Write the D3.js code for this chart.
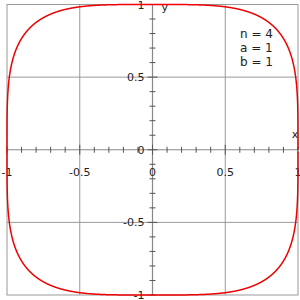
<!DOCTYPE html>
<html>
<head>
<meta charset="utf-8">
<script src="https://cdn.jsdelivr.net/npm/d3@7"></script>
<style>
  body { margin: 0; background: #fff; }
  text { font-family: "DejaVu Sans", sans-serif; font-size: 11px; fill: #222; }
</style>
</head>
<body>
<div id="chart"></div>
<script>
// superellipse |x/a|^n + |y/b|^n = 1
const params = [["n", 4], ["a", 1], ["b", 1]];
const n = 4, a = 1, b = 1;
const gridValues = [-0.5, 0.5];
const xLabels = [-1, -0.5, 0, 0.5, 1];
const yLabels = [-1, -0.5, 0.5, 1];
const minorTicks = d3.range(-10, 11).map(d => d / 10);

const W = 300, H = 300;
const x = d3.scaleLinear().domain([-1, 1]).range([7, 298]);
const y = d3.scaleLinear().domain([-1, 1]).range([295, 4.5]);

const svg = d3.select("#chart").append("svg")
    .attr("width", W)
    .attr("height", H);

// grid
svg.selectAll(".gx").data(gridValues).enter().append("line")
    .attr("x1", d => x(d)).attr("x2", d => x(d))
    .attr("y1", y(1)).attr("y2", y(-1))
    .attr("stroke", "#999").attr("stroke-width", 1);
svg.selectAll(".gy").data(gridValues).enter().append("line")
    .attr("y1", d => y(d)).attr("y2", d => y(d))
    .attr("x1", x(-1)).attr("x2", x(1))
    .attr("stroke", "#999").attr("stroke-width", 1);

svg.append("rect")
    .attr("x", x(-1)).attr("y", y(1))
    .attr("width", x(1) - x(-1)).attr("height", y(-1) - y(1))
    .attr("fill", "none").attr("stroke", "#999").attr("stroke-width", 1);

// axes
svg.append("line")
    .attr("x1", x(-1)).attr("x2", x(1)).attr("y1", y(0)).attr("y2", y(0))
    .attr("stroke", "#888").attr("stroke-width", 1.2);
svg.append("line")
    .attr("y1", y(-1)).attr("y2", y(1)).attr("x1", x(0)).attr("x2", x(0))
    .attr("stroke", "#888").attr("stroke-width", 1.2);

const major = d => Math.abs(Math.abs(d) - 0.5) < 1e-9 || Math.abs(d) < 1e-9;

svg.selectAll(".tx").data(minorTicks).enter().append("line")
    .attr("x1", d => x(d)).attr("x2", d => x(d))
    .attr("y1", d => y(0) - (major(d) ? 5 : 3))
    .attr("y2", d => y(0) + (major(d) ? 5 : 3))
    .attr("stroke", "#555").attr("stroke-width", 1);
svg.selectAll(".ty").data(minorTicks).enter().append("line")
    .attr("y1", d => y(d)).attr("y2", d => y(d))
    .attr("x1", d => x(0) - (major(d) ? 5 : 3))
    .attr("x2", d => x(0) + (major(d) ? 5 : 3))
    .attr("stroke", "#555").attr("stroke-width", 1);

const fmt = d => (d < 0 ? "-" : "") + Math.abs(d);

svg.selectAll(".lx").data(xLabels).enter().append("text")
    .attr("x", d => x(d))
    .attr("y", y(0) + 26)
    .attr("text-anchor", "middle")
    .text(fmt);

svg.selectAll(".ly").data(yLabels).enter().append("text")
    .attr("x", x(0) - 8)
    .attr("y", d => y(d) + 4)
    .attr("text-anchor", "end")
    .text(fmt);

svg.append("text").attr("x", x(0) - 8).attr("y", y(0) + 4)
    .attr("text-anchor", "end").text("0");

svg.append("text").attr("x", x(0) + 9).attr("y", y(1) + 6).text("y");
svg.append("text").attr("x", x(1) - 3).attr("y", y(0) - 12)
    .attr("text-anchor", "middle").text("x");

// curve
const t = d3.range(0, 2 * Math.PI + 0.0005, 0.001);
const pts = t.map(s => {
    const c = Math.cos(s), si = Math.sin(s);
    return [a * Math.sign(c) * Math.pow(Math.abs(c), 2 / n),
            b * Math.sign(si) * Math.pow(Math.abs(si), 2 / n)];
});
svg.append("path")
    .datum(pts)
    .attr("d", d3.line().x(d => x(d[0])).y(d => y(d[1])))
    .attr("fill", "none")
    .attr("stroke", "#e00")
    .attr("stroke-width", 1.5);

svg.selectAll(".par").data(params).enter().append("text")
    .attr("x", 240)
    .attr("y", (d, i) => 38 + i * 14)
    .style("font-size", "12px")
    .text(d => `${d[0]} = ${d[1]}`);
</script>
</body>
</html>
